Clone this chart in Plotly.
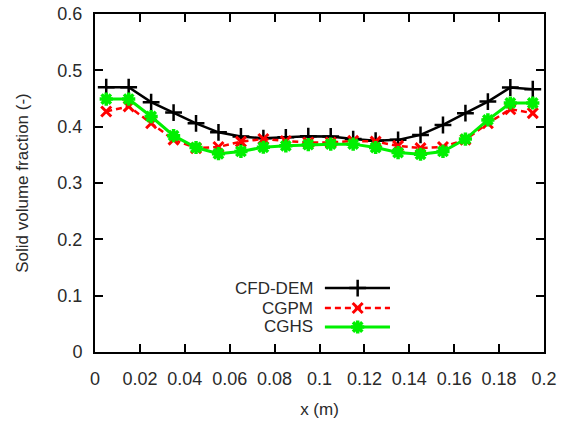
import plotly.graph_objects as go

x = [0.005, 0.015, 0.025, 0.035, 0.045, 0.055, 0.065, 0.075, 0.085, 0.095,
     0.105, 0.115, 0.125, 0.135, 0.145, 0.155, 0.165, 0.175, 0.185, 0.195]
cfd_dem = [0.470, 0.470, 0.4435, 0.425, 0.406, 0.390, 0.3825, 0.3795, 0.381, 0.383,
           0.3825, 0.378, 0.375, 0.3766, 0.3854, 0.403, 0.424, 0.4446, 0.4695, 0.4666]
cgpm = [0.427, 0.436, 0.406, 0.377, 0.362, 0.364, 0.3735, 0.378, 0.3745, 0.372,
        0.372, 0.3747, 0.3735, 0.366, 0.362, 0.364, 0.377, 0.406, 0.431, 0.424]
cghs = [0.449, 0.449, 0.418, 0.384, 0.363, 0.352, 0.356, 0.3635, 0.366, 0.368,
        0.369, 0.369, 0.363, 0.354, 0.351, 0.356, 0.378, 0.412, 0.442, 0.442]

names = ["CFD-DEM", "CGPM", "CGHS"]
xticks = [0, 0.02, 0.04, 0.06, 0.08, 0.1, 0.12, 0.14, 0.16, 0.18, 0.2]
xticklabels = ["0", "0.02", "0.04", "0.06", "0.08", "0.1", "0.12", "0.14", "0.16", "0.18", "0.2"]
yticks = [0, 0.1, 0.2, 0.3, 0.4, 0.5, 0.6]
yticklabels = ["0", "0.1", "0.2", "0.3", "0.4", "0.5", "0.6"]

styles = [
    dict(color="black", dash="solid", width=2.5, symbol="cross-thin-open", msize=12, mw=2.5),
    dict(color="red", dash="6px,4px", width=2.5, symbol="x-thin-open", msize=10, mw=3),
    dict(color="#00f000", dash="solid", width=3, symbol="asterisk-open", msize=11, mw=3.5),
]
series = [cfd_dem, cgpm, cghs]

FONT = "Liberation Sans"
TXT = "#2a2a2a"
fig = go.Figure()
for ys, st, nm in zip(series, styles, names):
    fig.add_trace(go.Scatter(
        x=x, y=ys, mode="lines+markers", name=nm, showlegend=False,
        line=dict(color=st["color"], dash=st["dash"], width=st["width"]),
        marker=dict(symbol=st["symbol"], size=st["msize"],
                    line=dict(color=st["color"], width=st["mw"]), color=st["color"]),
    ))

# manual legend (text left of sample, as in the reference)
leg_y = [0.189, 0.130, 0.074]
for st, nm, ly in zip(styles, names, leg_y):
    fig.add_trace(go.Scatter(
        x=[0.512, 0.657], y=[ly, ly], xaxis="x2", yaxis="y2", mode="lines",
        line=dict(color=st["color"], dash=st["dash"], width=st["width"]),
        showlegend=False, hoverinfo="skip"))
    fig.add_trace(go.Scatter(
        x=[0.585], y=[ly], xaxis="x2", yaxis="y2", mode="markers",
        marker=dict(symbol=st["symbol"], size=st["msize"],
                    line=dict(color=st["color"], width=st["mw"]), color=st["color"]),
        showlegend=False, hoverinfo="skip"))
    fig.add_annotation(x=0.487, y=ly, xref="x2", yref="y2", text=nm, showarrow=False,
                       xanchor="right", yanchor="middle", borderpad=0,
                       font=dict(family=FONT, size=17, color=TXT))

axis_common = dict(
    showgrid=False, zeroline=False, showline=True, linecolor="black", linewidth=2,
    mirror="ticks", ticks="inside", ticklen=8, tickwidth=2, tickcolor="black",
    tickfont=dict(family=FONT, size=18, color=TXT), automargin=False,
)
fig.update_layout(
    width=563, height=422,
    margin=dict(l=95, r=19, t=14, b=70),
    paper_bgcolor="white", plot_bgcolor="white",
    xaxis=dict(range=[0, 0.2], tickvals=xticks, ticktext=xticklabels,
               ticklabelstandoff=9,
               title=dict(text="x (m)", font=dict(family=FONT, size=17, color=TXT), standoff=16),
               **axis_common),
    yaxis=dict(range=[0, 0.6], tickvals=yticks, ticktext=yticklabels,
               ticklabelstandoff=7,
               title=dict(text="Solid volume fraction (-)", font=dict(family=FONT, size=17, color=TXT), standoff=24),
               **axis_common),
    xaxis2=dict(range=[0, 1], overlaying="x", visible=False),
    yaxis2=dict(range=[0, 1], overlaying="y", visible=False),
)
fig.write_html("out.html")
